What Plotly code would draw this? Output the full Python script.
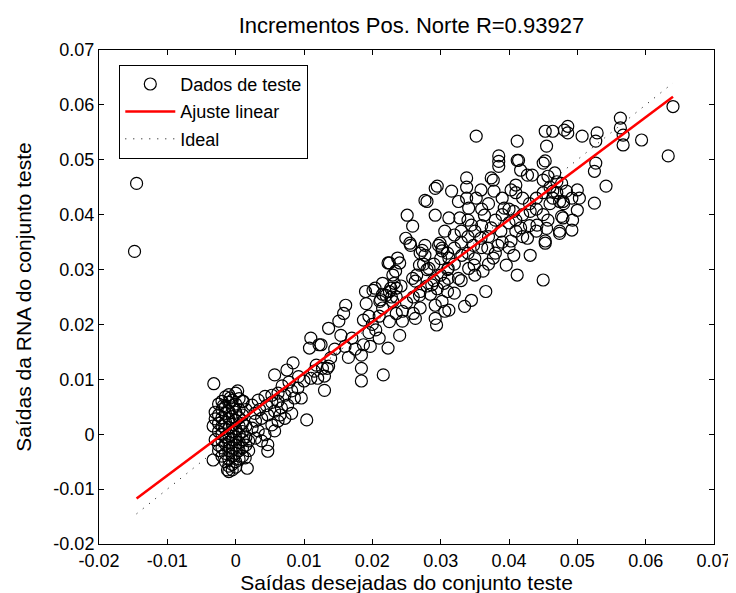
import plotly.graph_objects as go

# ---------------- data ----------------
pts_outliers = [(-0.0145, 0.0457), (-0.0148, 0.0333)]

pts_origem = [
    (-0.0032, 0.0092), (-0.0033, 0.0015), (-0.0033, -0.0047),
    (-0.003, 0.004), (-0.003, 0.0028), (-0.003, -0.001),
    (-0.0025, 0.0055), (-0.0025, 0.0035), (-0.0025, 0.002), (-0.0025, 0.0005), (-0.0025, -0.002), (-0.0025, -0.003),
    (-0.002, 0.006), (-0.002, 0.0045), (-0.002, 0.003), (-0.002, 0.0015), (-0.002, 0.0), (-0.002, -0.0012),
    (-0.002, -0.0025), (-0.002, -0.004),
    (-0.0015, 0.0068), (-0.0015, 0.005), (-0.0015, 0.0038), (-0.0015, 0.0022), (-0.0015, 0.001), (-0.0015, -0.0005),
    (-0.0015, -0.0018), (-0.0015, -0.0035), (-0.0015, -0.005),
    (-0.001, 0.0072), (-0.001, 0.0058), (-0.001, 0.0042), (-0.001, 0.0028), (-0.001, 0.0012), (-0.001, -0.0002),
    (-0.001, -0.0015), (-0.001, -0.003), (-0.001, -0.0045), (-0.001, -0.0058), (-0.001, -0.0068),
    (-0.0005, 0.0062), (-0.0005, 0.0048), (-0.0005, 0.0032), (-0.0005, 0.0018), (-0.0005, 0.0005), (-0.0005, -0.001),
    (-0.0005, -0.0025), (-0.0005, -0.004), (-0.0005, -0.0055), (-0.0005, -0.0065),
    (0.0, 0.0075), (0.0, 0.0055), (0.0, 0.004), (0.0, 0.0025), (0.0, 0.001), (0.0, -0.0005), (0.0, -0.002),
    (0.0, -0.0035), (0.0, -0.005), (0.0, -0.006),
    (0.0005, 0.0065), (0.0005, 0.0045), (0.0005, 0.003), (0.0005, 0.0015), (0.0005, 0.0), (0.0005, -0.0015),
    (0.0005, -0.003), (0.0005, -0.0045),
    (0.001, 0.006), (0.001, 0.0035), (0.001, 0.002), (0.001, 0.0005), (0.001, -0.001), (0.001, -0.0025), (0.001, -0.004),
    (0.0015, 0.0045), (0.0015, 0.0015), (0.0015, -0.0005), (0.0015, -0.002),
    (-0.0012, -0.0065), (0.0017, -0.0062), (0.0003, 0.0079), (-0.0008, 0.0066), (-0.0018, 0.0052),
]

pts_faixa = [
    (0.0024, 0.0053), (0.0033, 0.0062), (0.0043, 0.0069), (0.0053, 0.0071), (0.0062, 0.0075), (0.0072, 0.0071),
    (0.0082, 0.0079), (0.0091, 0.0084), (0.0086, 0.0066), (0.0076, 0.0053), (0.0067, 0.0048), (0.0057, 0.0042),
    (0.0047, 0.0035), (0.0038, 0.0029), (0.0029, 0.0024), (0.0024, 0.0011), (0.0033, 0.0006), (0.0043, -0.0001),
    (0.0038, -0.0012), (0.0029, -0.0007), (0.0019, -0.0012), (0.0019, -0.003), (0.0014, -0.0043), (0.0053, 0.0017),
    (0.0062, 0.0024), (0.0072, 0.0029), (0.0082, 0.0038), (0.0057, 0.0006), (0.0047, -0.0019), (0.0047, -0.0031),
    (0.0062, 0.006), (0.0053, 0.0058), (0.0096, 0.0066), (0.01, 0.0097), (0.011, 0.0102), (0.012, 0.0102),
    (0.0115, 0.0115), (0.0127, 0.012), (0.0134, 0.012), (0.0139, 0.0139), (0.0104, 0.0026), (0.013, 0.008),
    (0.0057, 0.0108), (0.0075, 0.0117), (0.0084, 0.013), (0.0108, 0.0157), (0.0125, 0.0163), (0.0011, 0.006),
    (0.0068, 0.0088), (0.0078, 0.0095), (0.0092, 0.0105), (0.0035, 0.0045), (0.0045, 0.0052), (0.0065, 0.0035),
    (0.0028, 0.0038),
]

pts_meio = [
    (0.0216, 0.0108), (0.0184, 0.0097), (0.0184, 0.012), (0.0184, 0.0144), (0.0187, 0.0163), (0.0197, 0.016),
    (0.0223, 0.0157), (0.0161, 0.0235), (0.0158, 0.022), (0.0151, 0.0206), (0.0136, 0.0193), (0.0154, 0.018),
    (0.011, 0.0175), (0.0122, 0.0163), (0.013, 0.0106), (0.0136, 0.0124), (0.0118, 0.0126), (0.019, 0.026),
    (0.0191, 0.0238), (0.0187, 0.0208), (0.0204, 0.0266), (0.022, 0.0253), (0.0227, 0.0266), (0.0234, 0.0297),
    (0.0225, 0.0312), (0.024, 0.0312), (0.023, 0.0242), (0.0244, 0.0224), (0.0244, 0.0206), (0.024, 0.018),
    (0.0201, 0.0262), (0.0211, 0.0242), (0.0235, 0.0266), (0.023, 0.029), (0.0223, 0.0312), (0.0237, 0.0321),
    (0.016, 0.016), (0.017, 0.0175), (0.0145, 0.0155), (0.02, 0.02), (0.021, 0.0215), (0.0215, 0.023),
    (0.0205, 0.019), (0.0195, 0.0215), (0.0225, 0.0205), (0.0235, 0.022), (0.0175, 0.0155), (0.0165, 0.014),
    (0.0195, 0.0185), (0.021, 0.0175), (0.0228, 0.025), (0.0215, 0.0275), (0.0215, 0.0255), (0.0225, 0.026),
    (0.0235, 0.025), (0.0242, 0.027), (0.0232, 0.0275), (0.0212, 0.0245),
]

pts_alto = [
    (0.0292, 0.0448), (0.0338, 0.0467), (0.0385, 0.0488), (0.0385, 0.0497), (0.0414, 0.0499), (0.0417, 0.0481),
    (0.0377, 0.0463), (0.0378, 0.0443), (0.0359, 0.0445), (0.028, 0.0424), (0.0277, 0.0344), (0.0297, 0.0344),
    (0.0292, 0.0399), (0.0326, 0.0424), (0.0328, 0.0394), (0.032, 0.0363), (0.0345, 0.0381), (0.0348, 0.0344),
    (0.0349, 0.0308), (0.0362, 0.0297), (0.0377, 0.0321), (0.0384, 0.0344), (0.0412, 0.029), (0.045, 0.0281),
    (0.0366, 0.026), (0.0345, 0.0244), (0.032, 0.0257), (0.0302, 0.0242), (0.0453, 0.0348), (0.0441, 0.0381),
    (0.0457, 0.039), (0.0474, 0.0366), (0.0479, 0.0394), (0.0479, 0.0424), (0.0464, 0.0443), (0.0457, 0.047),
    (0.045, 0.0494), (0.0434, 0.0472), (0.041, 0.0454), (0.0403, 0.0445), (0.042, 0.043), (0.0431, 0.0406),
    (0.0407, 0.0406), (0.0393, 0.0412), (0.04, 0.0385), (0.0388, 0.037), (0.0417, 0.0376), (0.0427, 0.0357),
    (0.0403, 0.0352), (0.0407, 0.0326), (0.0431, 0.0326), (0.0396, 0.0308), (0.0374, 0.0376), (0.0364, 0.0399),
    (0.0352, 0.043), (0.0341, 0.0412), (0.0312, 0.0394), (0.0306, 0.037), (0.0302, 0.0339), (0.0312, 0.0321),
    (0.0331, 0.0326), (0.0341, 0.0302), (0.0326, 0.0284), (0.0277, 0.0326), (0.0283, 0.0302), (0.0287, 0.0272),
    (0.0369, 0.0339), (0.0359, 0.0357), (0.032, 0.0339),
    (0.0263, 0.0211), (0.0269, 0.0253), (0.0259, 0.0284), (0.0269, 0.0308), (0.027, 0.033), (0.0255, 0.0348),
    (0.0299, 0.0348), (0.0302, 0.0334), (0.0292, 0.0235), (0.0292, 0.0211), (0.0294, 0.0199), (0.0306, 0.0224),
    (0.0311, 0.0284), (0.0311, 0.0302),
    (0.0352, 0.0543), (0.0412, 0.0534), (0.0385, 0.0507), (0.0295, 0.0452), (0.0277, 0.0426), (0.0251, 0.0399),
    (0.0259, 0.0379), (0.0249, 0.0357), (0.0256, 0.0344), (0.0273, 0.0335), (0.0263, 0.0279), (0.0335, 0.0233),
    (0.0312, 0.0226), (0.0338, 0.045), (0.0316, 0.0443), (0.0338, 0.043), (0.0374, 0.0467), (0.0412, 0.0499),
    (0.0427, 0.0472),
    (0.033, 0.035), (0.034, 0.036), (0.035, 0.037), (0.036, 0.038), (0.037, 0.036), (0.038, 0.039), (0.039, 0.04),
    (0.04, 0.041), (0.041, 0.039), (0.042, 0.04), (0.043, 0.042), (0.044, 0.043), (0.045, 0.044), (0.046, 0.045),
    (0.047, 0.046), (0.044, 0.041), (0.043, 0.038), (0.042, 0.036), (0.039, 0.035), (0.038, 0.033), (0.036, 0.034),
    (0.035, 0.032), (0.034, 0.033), (0.032, 0.031), (0.031, 0.03), (0.03, 0.029), (0.029, 0.028), (0.028, 0.027),
    (0.027, 0.026), (0.026, 0.025), (0.025, 0.024), (0.028, 0.03), (0.029, 0.031), (0.03, 0.032), (0.031, 0.033),
    (0.033, 0.037), (0.034, 0.039), (0.036, 0.041), (0.037, 0.042), (0.039, 0.043), (0.041, 0.044), (0.046, 0.042),
    (0.047, 0.044), (0.048, 0.042), (0.045, 0.04), (0.044, 0.037), (0.041, 0.037), (0.04, 0.034), (0.037, 0.031),
    (0.035, 0.029), (0.033, 0.028), (0.031, 0.026), (0.027, 0.023), (0.026, 0.022), (0.0265, 0.029), (0.0275, 0.031),
    (0.0285, 0.0255), (0.0295, 0.0265), (0.0305, 0.0275),
]

pts_topo = [
    (0.064, 0.0597), (0.0633, 0.0507), (0.0594, 0.0536), (0.0563, 0.0576), (0.0563, 0.0558), (0.0567, 0.0527),
    (0.0567, 0.0545), (0.0529, 0.0549), (0.0527, 0.0534), (0.0507, 0.0543), (0.0486, 0.0561), (0.0486, 0.0549),
    (0.0481, 0.0554), (0.0464, 0.0552), (0.0453, 0.0552), (0.0455, 0.0525), (0.0453, 0.0498), (0.0527, 0.0494),
    (0.0525, 0.0479), (0.0542, 0.0452), (0.0525, 0.0421), (0.05, 0.0445), (0.0503, 0.043), (0.05, 0.0408),
    (0.0493, 0.039), (0.0492, 0.0372), (0.0474, 0.037), (0.0477, 0.0397), (0.0455, 0.0375), (0.0453, 0.0352),
    (0.0464, 0.043), (0.0474, 0.0424), (0.0484, 0.0443), (0.0467, 0.0476), (0.045, 0.0463), (0.0477, 0.0457),
    (0.0492, 0.043),
]

fit_slope = 0.9325
fit_intercept = 0.0018
line_x = [-0.0145, 0.064]

tick_vals = [-0.02, -0.01, 0, 0.01, 0.02, 0.03, 0.04, 0.05, 0.06, 0.07]
tick_text = ["-0.02", "-0.01", "0", "0.01", "0.02", "0.03", "0.04", "0.05", "0.06", "0.07"]

# ---------------- figure ----------------
all_pts = pts_outliers + pts_origem + pts_faixa + pts_meio + pts_alto + pts_topo
x_data = [p[0] for p in all_pts]
y_data = [p[1] for p in all_pts]

FONT = "Liberation Sans, Arial, Helvetica, sans-serif"

fig = go.Figure()
fig.add_trace(go.Scatter(
    x=x_data, y=y_data, mode="markers", name="Dados de teste",
    marker=dict(symbol="circle-open", size=12, color="black", line=dict(width=1.2, color="black")),
    legendgroup="a",
))
fig.add_trace(go.Scatter(
    x=line_x, y=[fit_slope * v + fit_intercept for v in line_x], mode="lines", name="Ajuste linear",
    line=dict(color="#ff0000", width=2.5), legendgroup="b",
))
fig.add_trace(go.Scatter(
    x=line_x, y=line_x, mode="lines", name="Ideal",
    line=dict(color="black", width=1, dash="1px,7px"), legendgroup="c",
))

axis_common = dict(
    tickvals=tick_vals, ticktext=tick_text, range=[-0.02, 0.07],
    showgrid=False, zeroline=False, showline=True, linecolor="black", linewidth=1,
    mirror="ticks", ticks="inside", ticklen=5, tickcolor="black",
    tickfont=dict(family=FONT, size=18, color="black"),
)

fig.update_layout(
    width=736, height=593,
    margin=dict(l=91, r=19, t=42, b=57),
    paper_bgcolor="white", plot_bgcolor="white",
    title=dict(text="Incrementos Pos. Norte R=0.93927", x=0.508, xref="paper", xanchor="center",
               y=0.97, yanchor="middle",
               font=dict(family=FONT, size=22, color="black")),
    xaxis=dict(axis_common, title=dict(text="Saídas desejadas do conjunto teste",
                                       font=dict(family=FONT, size=21, color="black"), standoff=0)),
    yaxis=dict(axis_common, title=dict(text="Saídas da RNA do conjunto teste",
                                       font=dict(family=FONT, size=21, color="black"), standoff=16)),
    legend=dict(x=0.033, y=0.97, xanchor="left", yanchor="top",
                bgcolor="white", bordercolor="black", borderwidth=1,
                font=dict(family=FONT, size=18, color="black"),
                itemwidth=50, tracegroupgap=1, traceorder="grouped"),
    showlegend=True,
)

fig.write_html("out.html")
